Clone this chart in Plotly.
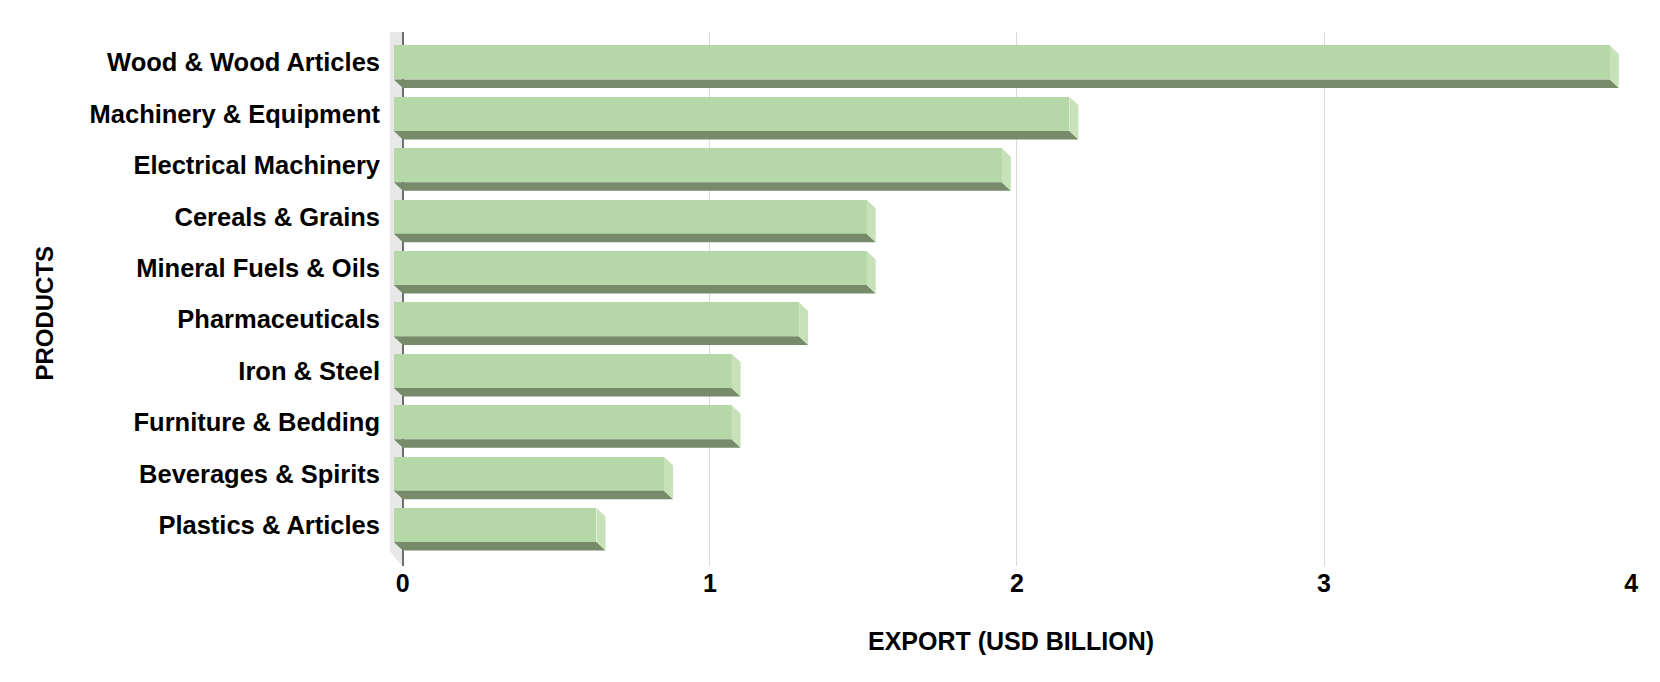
import plotly.graph_objects as go

# ---- data ----
categories = [
    "Wood & Wood Articles",
    "Machinery & Equipment",
    "Electrical Machinery",
    "Cereals & Grains",
    "Mineral Fuels & Oils",
    "Pharmaceuticals",
    "Iron & Steel",
    "Furniture & Bedding",
    "Beverages & Spirits",
    "Plastics & Articles",
]
export_values = [3.96, 2.2, 1.98, 1.54, 1.54, 1.32, 1.1, 1.1, 0.88, 0.66]
x_tick_vals = [0, 1, 2, 3, 4]
x_title = "EXPORT (USD BILLION)"
y_title = "PRODUCTS"

# ---- style ----
FRONT = "#b6d7a8"
SIDE = "#c7e1b8"
BOTTOM = "#778b6b"
WALL = "#e8e8e8"
FONT = "Liberation Sans, Arial, sans-serif"

DX = 0.0293   # depth offset in x units
DY = 0.165    # depth offset in y units
HALF = 0.331  # half height of front face

pos = list(range(len(categories)))
Y_TOP = -0.593
Y_BOT = 9.796
X_MIN = -0.045
X_MAX = 4.003

fig = go.Figure()

# front faces
fig.add_trace(go.Bar(
    y=pos, x=export_values, base=-DX, orientation="h", width=2 * HALF,
    marker=dict(color=FRONT, line=dict(width=0)), hoverinfo="skip",
    showlegend=False,
))

# bottom faces (parallelograms derived from values)
bx, by = [], []
for k, v in zip(pos, export_values):
    yb = k + HALF
    bx += [-DX, v - DX, v, 0, -DX, None]
    by += [yb, yb, yb + DY, yb + DY, yb, None]
fig.add_trace(go.Scatter(
    x=bx, y=by, mode="lines", fill="toself", fillcolor=BOTTOM,
    line=dict(width=0, color=BOTTOM), hoverinfo="skip", showlegend=False,
))

# right side faces
sx, sy = [], []
for k, v in zip(pos, export_values):
    yt = k - HALF
    yb = k + HALF
    sx += [v - DX, v, v, v - DX, v - DX, None]
    sy += [yt, yt + DY, yb + DY, yb, yt, None]
fig.add_trace(go.Scatter(
    x=sx, y=sy, mode="lines", fill="toself", fillcolor=SIDE,
    line=dict(width=0, color=SIDE), hoverinfo="skip", showlegend=False,
))

# back wall (decoration)
WD = 0.2
fig.add_shape(
    type="path",
    path=(f"M {-0.042} {Y_TOP - WD} L -0.002 {Y_TOP} L -0.002 {Y_BOT} "
          f"L {-0.042} {Y_BOT - 0.28} Z"),
    xref="x", yref="y", fillcolor=WALL, line=dict(width=0), layer="below",
)

fig.update_layout(
    width=1652, height=674,
    margin=dict(l=381, r=28, t=24, b=116),
    paper_bgcolor="white", plot_bgcolor="white",
    bargap=0,
    xaxis=dict(
        range=[X_MIN, X_MAX], tickvals=x_tick_vals,
        showgrid=True, gridcolor="#d9d9d9", gridwidth=1,
        zeroline=True, zerolinecolor="#6f6f6f", zerolinewidth=1.5,
        showline=False, ticks="",
        tickfont=dict(family=FONT, size=25, color="black", weight="bold"),
    ),
    yaxis=dict(
        range=[Y_BOT, Y_TOP], tickvals=pos, ticktext=categories,
        showgrid=False, zeroline=False, showline=False, ticks="",
        ticklabelstandoff=8,
        tickfont=dict(family=FONT, size=25.5, color="black", weight="bold"),
    ),
    annotations=[
        dict(text=x_title, xref="paper", yref="paper", x=0.5004, y=-0.140,
             showarrow=False, xanchor="center", yanchor="middle",
             font=dict(family=FONT, size=25, color="black", weight="bold")),
        dict(text=y_title, xref="paper", yref="paper", x=-0.277, y=0.474,
             showarrow=False, xanchor="center", yanchor="middle", textangle=-90,
             font=dict(family=FONT, size=24, color="black", weight="bold")),
    ],
)

fig.write_html("out.html")
